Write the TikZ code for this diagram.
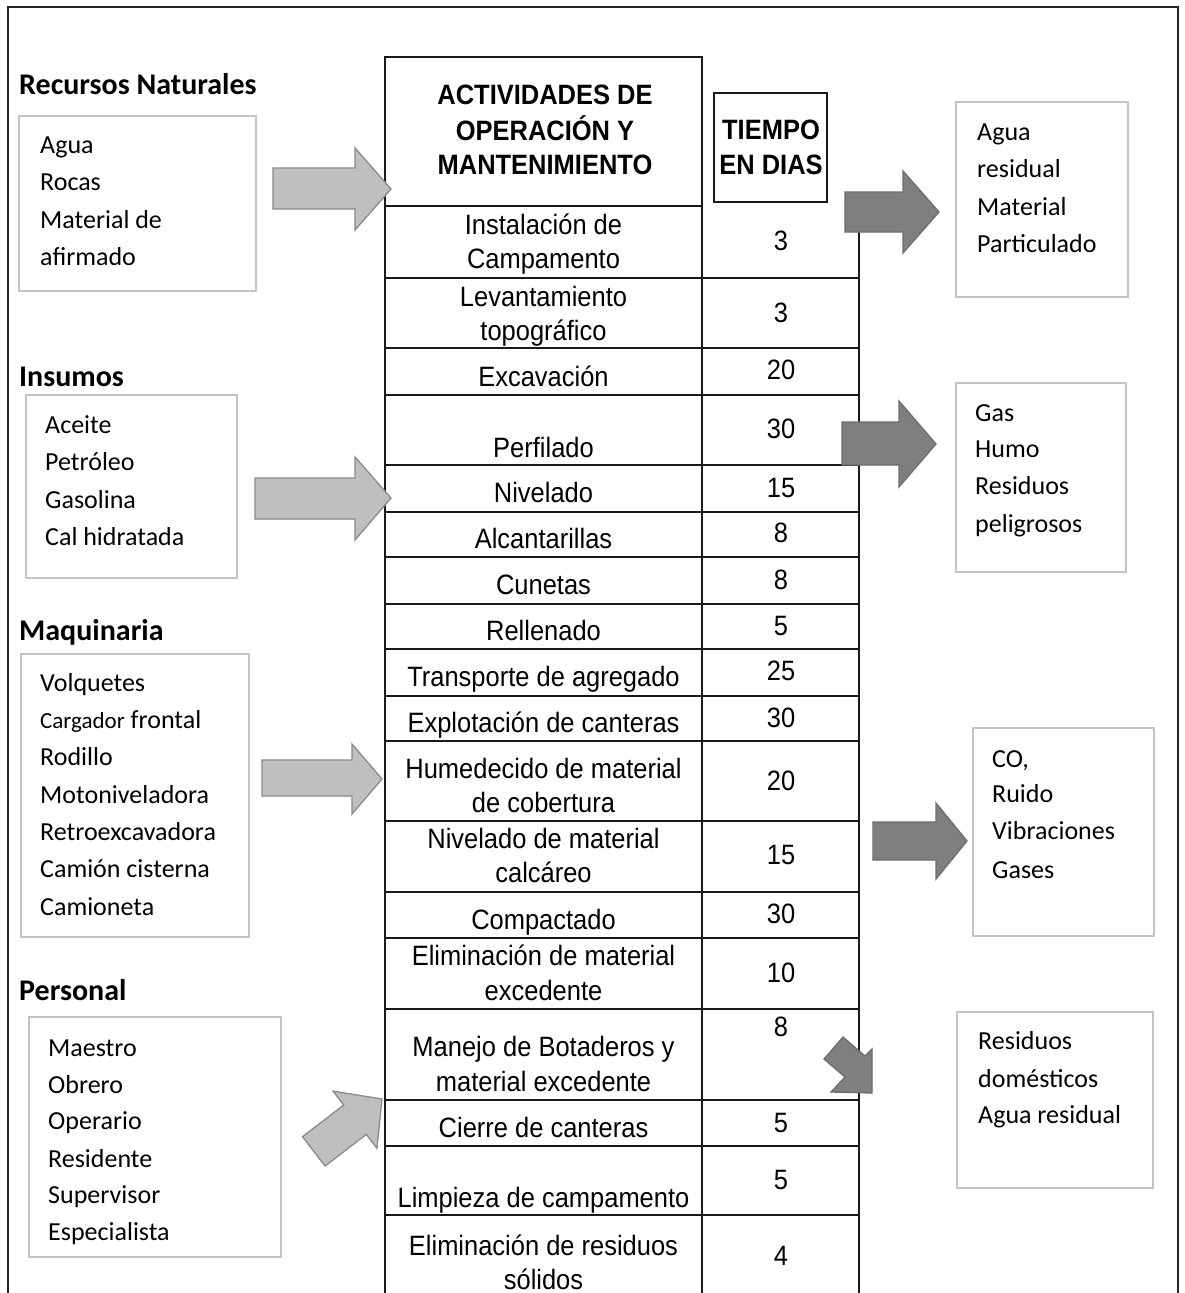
\documentclass[tikz,border=0pt]{standalone}
\usepackage{fontspec}
\newfontfamily\arialf[FakeStretch=0.91]{Liberation Sans}
\newfontfamily\calf{Carlito}
\definecolor{lightarrow}{HTML}{BFBFBF}
\definecolor{lightedge}{HTML}{8A8A8A}
\definecolor{darkarrow}{HTML}{7F7F7F}
\definecolor{darkedge}{HTML}{6E6E6E}
\definecolor{boxedge}{HTML}{C4C4C4}
\tikzset{
  tbl/.style={line width=2pt, draw=black!90},
  frame/.style={line width=2pt, draw=black!85},
  listbox/.style={line width=1.5pt, draw=boxedge},
  lightarr/.style={fill=lightarrow, draw=lightedge, line width=1.3pt, line join=miter},
  darkarr/.style={fill=darkarrow, draw=darkedge, line width=1.3pt, line join=miter},
  act/.style={font=\arialf\fontsize{28}{34}\selectfont, anchor=base, inner sep=0pt},
  hdr/.style={font=\arialf\bfseries\fontsize{28}{34}\selectfont, anchor=base, inner sep=0pt},
  lst/.style={font=\calf\fontsize{26}{30}\selectfont, anchor=base west, inner sep=0pt},
  ttl/.style={font=\calf\bfseries\fontsize{30}{36}\selectfont, anchor=base west, inner sep=0pt},
}
\begin{document}
\begin{tikzpicture}[x=1pt,y=-1pt]
\useasboundingbox (0,0) rectangle (1184,1293);
\fill[white] (0,0) rectangle (1184,1293);
% outer frame
\draw[frame] (8,1293) -- (8,7) -- (1178,7) -- (1178,1293);

% input boxes
\draw[listbox] (19,116) rectangle (256,291);
\draw[listbox] (26,395) rectangle (237,578);
\draw[listbox] (21,654) rectangle (249,937);
\draw[listbox] (29,1017) rectangle (281,1257);
% output boxes
\draw[listbox] (956,102) rectangle (1128,297);
\draw[listbox] (956,383) rectangle (1126,572);
\draw[listbox] (973,728) rectangle (1154,936);
\draw[listbox] (957,1012) rectangle (1153,1188);

% table
\draw[tbl] (385,1293) -- (385,57) -- (702,57) -- (702,1293);
\draw[tbl] (385,206) -- (702,206);
\draw[tbl] (859,206) -- (859,1293);
\foreach \yy in {278,348,395,465,512,557,604,649,696,741,821,892,938,1009,1100,1146,1215}
  \draw[tbl] (385,\yy) -- (859,\yy);
\draw[tbl] (714,93) rectangle (827,202);

% input arrows (light)
\draw[lightarr] (273,168) -- (355,168) -- (355,148) -- (391,189) -- (355,230) -- (355,209) -- (273,209) -- cycle;
\draw[lightarr] (255,478) -- (355,478) -- (355,457) -- (391,498) -- (355,540) -- (355,519) -- (255,519) -- cycle;
\draw[lightarr] (262,760) -- (352,760) -- (352,744) -- (382,779) -- (352,814) -- (352,796) -- (262,796) -- cycle;
\begin{scope}[shift={(382,1099)}, rotate=37.5]
  \draw[lightarr] (0,0) -- (-34,-36) -- (-34,-18.5) -- (-86,-18.5) -- (-86,18.5) -- (-34,18.5) -- (-34,36) -- cycle;
\end{scope}

% output arrows (dark)
\draw[darkarr] (845,192) -- (903,192) -- (903,171) -- (939,212) -- (903,253) -- (903,232) -- (845,232) -- cycle;
\draw[darkarr] (842,422) -- (899,422) -- (899,401) -- (936,444) -- (899,487) -- (899,465) -- (842,465) -- cycle;
\draw[darkarr] (873,822) -- (936,822) -- (936,803) -- (967,841) -- (936,879) -- (936,860) -- (873,860) -- cycle;
\draw[darkarr] (843,1037) -- (865,1056) -- (872,1049) -- (872,1093) -- (831,1092) -- (845,1077) -- (824,1059) -- cycle;

% header
\node[hdr] (h1) at (545,104) {ACTIVIDADES DE};
\node[hdr] (h2) at (545,140) {OPERACIÓN Y};
\node[hdr] (h3) at (545,174) {MANTENIMIENTO};
\node[hdr] (t1) at (771,139) {TIEMPO};
\node[hdr] (t2) at (771,174) {EN DIAS};

% activities
\foreach \yy/\tt [count=\i] in {
  224/Instalación de, 258/Campamento, 296/Levantamiento, 330/topográfico,
  376/Excavación, 447/Perfilado, 492/Nivelado, 538/Alcantarillas, 584/Cunetas,
  630/Rellenado, 676/Transporte de agregado, 722/Explotación de canteras,
  768/Humedecido de material, 802/de cobertura, 838/Nivelado de material,
  872/calcáreo, 919/Compactado, 955/Eliminación de material, 990/excedente,
  1046/Manejo de Botaderos y, 1081/material excedente, 1127/Cierre de canteras,
  1197/Limpieza de campamento, 1245/Eliminación de residuos, 1279/sólidos}
  \node[act] (act\i) at (543.5,\yy+10) {\tt};

% durations
\foreach \yy/\tt [count=\i] in {
  240/3, 312/3, 369/20, 428/30, 487/15, 532/8, 579/8, 625/5, 670/25, 717/30,
  780/20, 854/15, 913/30, 972/10, 1026/8, 1122/5, 1179/5, 1255/4}
  \node[act] (dur\i) at (781,\yy+10) {\tt};

% titles
\node[ttl] (ttlA) at (19,94) {Recursos Naturales};
\node[ttl] (ttlB) at (19,386) {Insumos};
\node[ttl] (ttlC) at (19,640) {Maquinaria};
\node[ttl] (ttlD) at (19,1000) {Personal};

% input lists
\foreach \yy/\tt [count=\i] in {153/Agua, 190.5/Rocas, 228/Material de, 265.5/afirmado}
  \node[lst] (rn\i) at (40,\yy) {\tt};
\foreach \yy/\tt [count=\i] in {433/Aceite, 470.5/Petróleo, 508/Gasolina, 545.5/Cal hidratada}
  \node[lst] (in\i) at (45,\yy) {\tt};
\foreach \yy/\tt [count=\i] in {691/Volquetes, 728/{{\fontsize{23}{26}\selectfont Cargador} frontal}, 765/Rodillo,
  803/Motoniveladora, 840/Retroexcavadora, 877/Camión cisterna, 915/Camioneta}
  \node[lst] (mq\i) at (40,\yy) {\tt};
\foreach \yy/\tt [count=\i] in {1056/Maestro, 1093/Obrero, 1129/Operario, 1167/Residente,
  1203/Supervisor, 1240/Especialista}
  \node[lst] (pe\i) at (48,\yy) {\tt};

% output lists
\foreach \yy/\tt [count=\i] in {140/Agua, 177.5/residual, 215/Material, 252.5/Particulado}
  \node[lst] (oa\i) at (977,\yy) {\tt};
\foreach \yy/\tt [count=\i] in {421/Gas, 457.5/Humo, 494.5/Residuos, 532/peligrosos}
  \node[lst] (ob\i) at (975,\yy) {\tt};
\foreach \yy/\tt [count=\i] in {767/{CO,}, 802.5/Ruido, 839.5/Vibraciones, 878/Gases}
  \node[lst] (oc\i) at (992,\yy) {\tt};
\foreach \yy/\tt [count=\i] in {1049.5/Residuos, 1087/domésticos, 1123.5/Agua residual}
  \node[lst] (od\i) at (978,\yy) {\tt};
\end{tikzpicture}
\end{document}
